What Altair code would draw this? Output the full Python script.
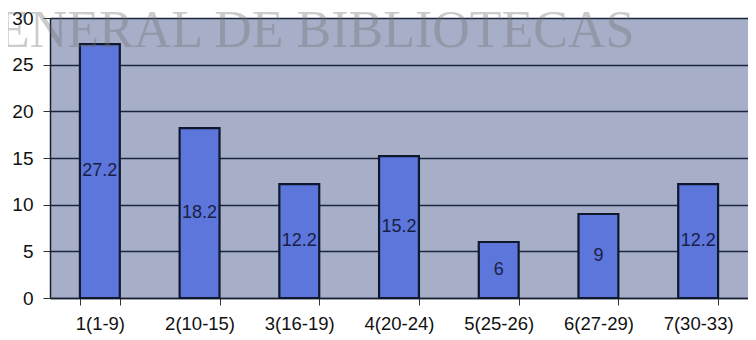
import altair as alt
import pandas as pd

categories = ["1(1-9)", "2(10-15)", "3(16-19)", "4(20-24)", "5(25-26)", "6(27-29)", "7(30-33)"]
values = [27.2, 18.2, 12.2, 15.2, 6, 9, 12.2]
labels = ["27.2", "18.2", "12.2", "15.2", "6", "9", "12.2"]
watermark = ["ENERAL DE BIBLIOTECAS"]

df = pd.DataFrame({"cat": categories, "val": values, "lab": labels, "half": [v / 2 for v in values]})

x = alt.X("cat:N", sort=None, title=None,
          scale=alt.Scale(paddingInner=0.6, paddingOuter=0.3),
          axis=alt.Axis(labelAngle=0, labelFontSize=18.5, labelColor="#111", labelFont="Liberation Sans",
                        labelPadding=9, tickBand="extent", tickSize=7, tickColor="#333",
                        domainColor="#1a2030", domainWidth=1.5, grid=False))

bars = alt.Chart(df).mark_bar(color="#5c76dc", stroke="#10182e", strokeWidth=2.2).encode(
    x=x,
    y=alt.Y("val:Q", title=None,
            scale=alt.Scale(domain=[0, 30], nice=False),
            axis=alt.Axis(values=[0, 5, 10, 15, 20, 25, 30], labelFontSize=19, labelColor="#111",
                          labelFont="Liberation Sans", tickSize=7, tickColor="#333",
                          domainColor="#1a2030", domainWidth=1.5,
                          grid=True, gridColor="#1c2540", gridWidth=1.3, labelPadding=10)),
)

text = alt.Chart(df).mark_text(fontSize=18, font="Liberation Sans", color="#1a2045").encode(
    x=alt.X("cat:N", sort=None),
    y=alt.Y("half:Q"),
    text="lab:N",
)

wm = alt.Chart(pd.DataFrame({"t": watermark})).mark_text(
    font="Liberation Serif", fontSize=52, color="#707070", opacity=0.35, align="left", baseline="alphabetic"
).encode(x=alt.value(-52), y=alt.value(29), text="t:N")

chart = alt.layer(bars, text, wm).properties(
    width=698, height=280,
    autosize=alt.AutoSizeParams(type="none"),
    padding={"left": 42, "top": 10, "right": 0, "bottom": 42},
).configure_view(fill="#a6afc7", stroke=None)

chart.save("out.html", embed_options={"renderer": "svg", "actions": False})
